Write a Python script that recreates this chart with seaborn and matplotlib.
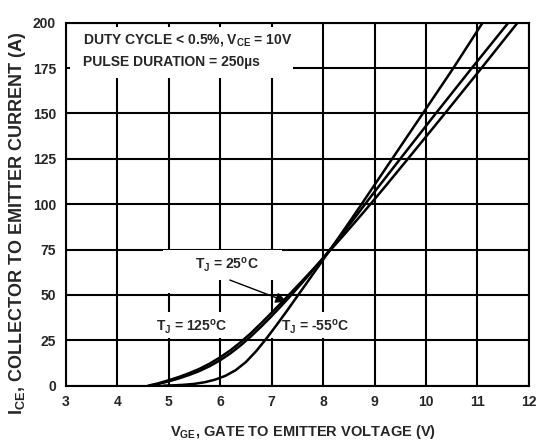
import pandas as pd
import matplotlib
matplotlib.use('Agg')
import matplotlib.pyplot as plt
from matplotlib.patches import Rectangle
from matplotlib import font_manager
import seaborn as sns

# curves: gate voltage (V) vs collector current (A)
temps = ['125', '25', '-55']
v_125 = [4.6, 4.8, 5.0, 5.2, 5.4, 5.6, 5.8, 6.0, 6.2, 6.4, 6.6, 6.8, 7.0, 7.2, 7.4,
         7.6, 7.8, 8.0, 8.2, 8.4, 8.6, 8.8, 9.0, 9.2, 9.6, 10.31, 11.05, 11.78]
i_125 = [0.0, 1.3, 3.0, 4.8, 6.9, 9.3, 12.2, 15.6, 19.5, 24.0, 29.0, 34.5, 40.2, 46.0, 51.9,
         57.9, 64.0, 70.2, 76.5, 82.9, 89.4, 96.0, 102.7, 109.5, 123.3, 148.0, 174.0, 200.0]
v_25 = [4.64, 4.8, 5.0, 5.2, 5.4, 5.6, 5.8, 6.0, 6.2, 6.4, 6.6, 6.8, 7.0, 7.2, 7.4,
        7.6, 7.8, 8.0, 8.2, 8.4, 8.6, 8.8, 9.0, 9.5, 10.19, 10.89, 11.6]
i_25 = [0.0, 0.9, 2.4, 4.0, 5.9, 8.1, 10.8, 14.0, 17.8, 22.2, 27.2, 32.6, 38.3, 44.3, 50.5,
        56.9, 63.5, 70.3, 77.3, 84.5, 91.9, 99.4, 106.8, 125.0, 150.0, 175.0, 200.0]
v_m55 = [4.9, 5.1, 5.3, 5.5, 5.7, 5.9, 6.1, 6.3, 6.5, 6.7, 6.9, 7.1, 7.3, 7.5, 7.7,
         7.9, 8.1, 8.3, 8.5, 8.7, 8.9, 9.3, 9.95, 10.52, 11.1]
i_m55 = [0.0, 0.2, 0.5, 1.0, 1.9, 3.3, 5.4, 8.5, 13.0, 19.0, 26.0, 33.5, 41.3, 49.3, 57.3,
         65.3, 73.4, 81.5, 89.7, 98.0, 106.4, 123.2, 150.5, 174.5, 200.0]

x_ticks = list(range(3, 13))
y_ticks = list(range(0, 201, 25))

df = pd.concat([
    pd.DataFrame({'vge': v_125, 'ice': i_125, 'tj': '125'}),
    pd.DataFrame({'vge': v_25, 'ice': i_25, 'tj': '25'}),
    pd.DataFrame({'vge': v_m55, 'ice': i_m55, 'tj': '-55'}),
])

sns.set_style('white')
names = {f.name for f in font_manager.fontManager.ttflist}
fam = 'Liberation Sans Narrow' if 'Liberation Sans Narrow' in names else 'Liberation Sans'
plt.rcParams['font.family'] = [fam, 'DejaVu Sans']
plt.rcParams['font.weight'] = 'bold'
plt.rcParams['mathtext.fontset'] = 'custom'
plt.rcParams['mathtext.rm'] = fam + ':bold'
plt.rcParams['mathtext.bf'] = fam + ':bold'
plt.rcParams['mathtext.it'] = fam + ':bold'
plt.rcParams['mathtext.default'] = 'rm'

fig = plt.figure(figsize=(5.37, 4.45), dpi=100)
ax = fig.add_axes([0.1223, 0.1333, 0.8627, 0.8157])

sns.lineplot(data=df, x='vge', y='ice', hue='tj', hue_order=temps,
             palette={t: 'black' for t in temps}, linewidth=1.8,
             legend=False, ax=ax, zorder=3)

ax.set_xlim(3, 12)
ax.set_ylim(0, 200)
ax.set_xticks(x_ticks)
ax.set_yticks(y_ticks)
ax.set_xticklabels([str(t) for t in x_ticks], fontsize=10, fontweight='bold')
ax.set_yticklabels([str(t) for t in y_ticks], fontsize=10, fontweight='bold')
ax.tick_params(length=0, pad=7)
ax.set_axisbelow(True)
ax.grid(True, color='black', linewidth=1.5)
for s in ax.spines.values():
    s.set_color('black')
    s.set_linewidth(1.5)

# white patches behind the texts (they hide the grid)
for (x0, y0, w, h) in [(3.08, 169.5, 4.34, 28.1), (4.9, 58.0, 2.3, 16.5),
                       (4.9, 51.0, 0.6, 7.5), (4.6, 26.0, 4.1, 14.8)]:
    ax.add_patch(Rectangle((x0, y0), w, h, facecolor='white', edgecolor='none', zorder=1))

ax.text(3.33, 190.5, 'DUTY CYCLE < 0.5%, V$_{CE}$ = 10V', fontsize=10,
        fontweight='bold', va='center', ha='left', zorder=4)
ax.text(3.33, 178.5, 'PULSE DURATION = 250\u00b5s', fontsize=10,
        fontweight='bold', va='center', ha='left', zorder=4)

ax.text(6.14, 66.5, 'T$_{J}$ = 25$^{o}$C', fontsize=10, fontweight='bold',
        ha='center', va='center', zorder=4)
ax.text(5.44, 32.3, 'T$_{J}$ = 125$^{o}$C', fontsize=10, fontweight='bold',
        ha='center', va='center', zorder=4)
ax.text(7.84, 32.3, 'T$_{J}$ = -55$^{o}$C', fontsize=10, fontweight='bold',
        ha='center', va='center', zorder=4)
ax.annotate('', xy=(7.29, 46.3), xytext=(6.19, 58.2),
            arrowprops=dict(arrowstyle='-|>', color='black', lw=1.0,
                            mutation_scale=16, shrinkA=0, shrinkB=0), zorder=4)

ax.set_xlabel('V$_{GE}$, GATE TO EMITTER VOLTAGE (V)', fontsize=10.5, fontweight='bold')
ax.xaxis.set_label_coords(0.512, -0.127)
ax.xaxis.label.set_verticalalignment('center')
ax.set_ylabel('I$_{CE}$, COLLECTOR TO EMITTER CURRENT (A)', fontsize=13, fontweight='bold')
ax.yaxis.set_label_coords(-0.105, 0.448)
ax.yaxis.label.set_verticalalignment('center')

fig.savefig('out.png', dpi=100)
